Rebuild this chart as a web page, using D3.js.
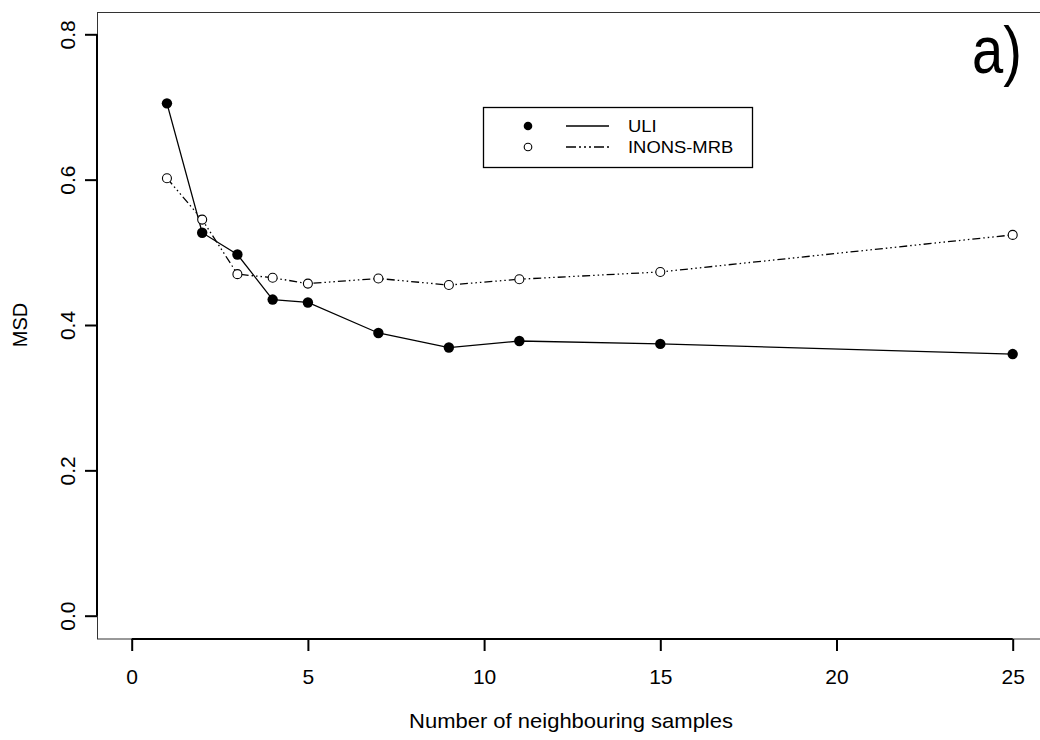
<!DOCTYPE html>
<html>
<head>
<meta charset="utf-8">
<script src="https://cdn.jsdelivr.net/npm/d3@7"></script>
<style>
  body { margin: 0; background: #fff; }
  text { font-family: "Liberation Sans", Arial, sans-serif; fill: #000; }
</style>
</head>
<body>
<div id="chart"></div>
<script>
// Data
const samples = [1, 2, 3, 4, 5, 7, 9, 11, 15, 25];
const uli = [0.705, 0.527, 0.497, 0.435, 0.431, 0.389, 0.369, 0.378, 0.374, 0.360];
const inons = [0.602, 0.545, 0.470, 0.465, 0.457, 0.464, 0.455, 0.463, 0.473, 0.524];
const xTicks = [0, 5, 10, 15, 20, 25];
const yTicks = [0.0, 0.2, 0.4, 0.6, 0.8];
const seriesNames = ["ULI", "INONS-MRB"];

var width = 1040,
    height = 740,
    dashPattern = "8,3,1.5,3,1.5,3,1.5,3";

var svg = d3.select("#chart")
    .append("svg")
    .attr("width", width)
    .attr("height", height);

// scales
var x = d3.scaleLinear().domain([0, 25]).range([131.7, 1012.7]);
var y = d3.scaleLinear().domain([0, 0.8]).range([615.7, 34.3]);

// plot box
svg.append("rect")
    .attr("x", 97.5)
    .attr("y", 12.5)
    .attr("width", 960)
    .attr("height", 626.5)
    .attr("fill", "none")
    .attr("stroke", "#333")
    .attr("stroke-width", 1);

// x axis
var xAxis = svg.append("g")
    .attr("transform", "translate(0,639)")
    .call(d3.axisBottom(x).tickValues(xTicks).tickSize(12).tickPadding(18).tickFormat(d3.format("d")));
xAxis.select(".domain").attr("stroke-width", 2).attr("d", "M" + x(0) + ",0H" + x(25));
xAxis.selectAll(".tick line").attr("stroke-width", 2);
xAxis.selectAll("text").style("font-size", "21px").style("font-family", "Liberation Sans, Arial, sans-serif");

// y axis
var yAxis = svg.append("g")
    .attr("transform", "translate(97,0)")
    .call(d3.axisLeft(y).tickValues(yTicks).tickSize(12).tickFormat(d3.format(".1f")));
yAxis.select(".domain").attr("stroke-width", 2).attr("d", "M0," + y(0) + "V" + y(0.8));
yAxis.selectAll(".tick line").attr("stroke-width", 2);
yAxis.selectAll(".tick text")
    .attr("x", null).attr("dy", null)
    .attr("transform", "translate(-22,0) rotate(-90)")
    .style("text-anchor", "middle")
    .style("font-size", "21px")
    .style("font-family", "Liberation Sans, Arial, sans-serif");

// axis titles
svg.append("text")
    .attr("transform", "translate(571,728) scale(1.1,1)")
    .style("text-anchor", "middle")
    .style("font-size", "20px")
    .text("Number of neighbouring samples");

svg.append("text")
    .attr("transform", "translate(27,325) rotate(-90)")
    .style("text-anchor", "middle")
    .style("font-size", "20px")
    .text("MSD");

// panel label
svg.append("text")
    .attr("transform", "translate(1022,73) scale(0.85,1)")
    .style("text-anchor", "end")
    .style("font-size", "66px")
    .text("a)");

// lines
var line = d3.line()
    .x(function(d, i) { return x(samples[i]); })
    .y(function(d) { return y(d); });

svg.append("path")
    .datum(inons)
    .attr("d", line)
    .attr("fill", "none")
    .attr("stroke", "#000")
    .attr("stroke-width", 1.3)
    .attr("stroke-dasharray", dashPattern);

svg.append("path")
    .datum(uli)
    .attr("d", line)
    .attr("fill", "none")
    .attr("stroke", "#000")
    .attr("stroke-width", 1.3);

// points
svg.selectAll(".open")
    .data(inons)
    .enter()
    .append("circle")
    .attr("cx", function(d, i) { return x(samples[i]); })
    .attr("cy", function(d) { return y(d); })
    .attr("r", 4.5)
    .attr("fill", "#fff")
    .attr("stroke", "#000")
    .attr("stroke-width", 1.1);

svg.selectAll(".filled")
    .data(uli)
    .enter()
    .append("circle")
    .attr("cx", function(d, i) { return x(samples[i]); })
    .attr("cy", function(d) { return y(d); })
    .attr("r", 5.2)
    .attr("fill", "#000");

// legend
var legend = svg.append("g");
legend.append("rect")
    .attr("x", 483.5)
    .attr("y", 107.5)
    .attr("width", 269)
    .attr("height", 60)
    .attr("fill", "#fff")
    .attr("stroke", "#000")
    .attr("stroke-width", 1.3);

for (let i = 0; i < seriesNames.length; i++) {
    let ly = 126 + i * 21;
    if (i === 0) {
        legend.append("circle").attr("cx", 528).attr("cy", ly).attr("r", 4.3).attr("fill", "#000");
    } else {
        legend.append("circle").attr("cx", 528).attr("cy", ly).attr("r", 3.8)
            .attr("fill", "#fff").attr("stroke", "#000").attr("stroke-width", 1.1);
    }
    legend.append("line")
        .attr("x1", 566).attr("x2", 609)
        .attr("y1", ly).attr("y2", ly)
        .attr("stroke", "#000")
        .attr("stroke-width", 1.3)
        .attr("stroke-dasharray", i === 0 ? null : "10,3,2,3,2,3,2,3");
    legend.append("text")
        .attr("transform", "translate(628," + (ly + 6) + ") scale(1.15,1)")
        .style("font-size", "16px")
        .text(seriesNames[i]);
}
</script>
</body>
</html>
